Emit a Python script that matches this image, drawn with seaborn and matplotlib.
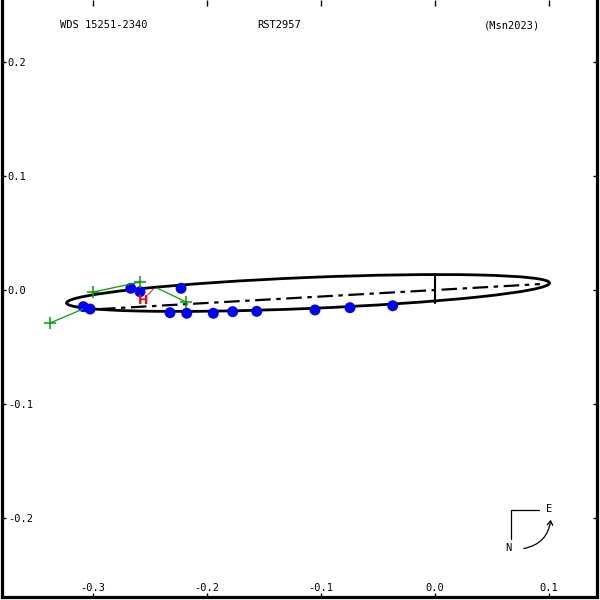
import matplotlib
matplotlib.use("Agg")
import matplotlib.pyplot as plt
import seaborn as sns
import pandas as pd
from matplotlib.patches import Ellipse, FancyArrowPatch

# observed positions (blue dots)
obs_x = [-0.3085, -0.3026, -0.2669, -0.2588, -0.2228, -0.2325, -0.2178,
         -0.1945, -0.1775, -0.1564, -0.1053, -0.0746, -0.0371]
obs_y = [-0.0146, -0.0167, 0.0015, -0.0015, 0.0015, -0.0199, -0.0204,
         -0.0204, -0.0190, -0.0187, -0.0175, -0.0155, -0.0138]

# micrometer measures (green +) and their residual segments
plus_x = [-0.3377, -0.3000, -0.2588, -0.2184]
plus_y = [-0.0289, -0.0018, 0.0070, -0.0105]
seg_x0 = [-0.3377, -0.3000, -0.2439]
seg_y0 = [-0.0289, -0.0018, 0.0018]
seg_x1 = [-0.3088, -0.2588, -0.2184]
seg_y1 = [-0.0167, 0.0070, -0.0105]

# Hipparcos measure
hip_x, hip_y = -0.2562, -0.0092
hip_line_x = [-0.2520, -0.2471]
hip_line_y = [-0.0044, 0.0009]

# orbit ellipse and line of nodes
orb_center = (-0.1114, -0.0026)
orb_width = 0.424
orb_height = 0.0272
orb_angle = 2.37
nodes_x = [-0.294, 0.092]
nodes_y = [-0.0167, 0.0052]
primary_y = [0.014, -0.0114]

xticks = [-0.3, -0.2, -0.1, 0.0, 0.1]
yticks = [-0.2, -0.1, 0.0, 0.1, 0.2]

sns.set_style("ticks")
plt.rcParams['font.family'] = ['DejaVu Sans Mono']
plt.rcParams['axes.unicode_minus'] = False
plt.rcParams['text.color'] = 'black'
plt.rcParams['xtick.color'] = 'black'
plt.rcParams['ytick.color'] = 'black'
plt.rcParams['xtick.labelcolor'] = 'black'
plt.rcParams['ytick.labelcolor'] = 'black'

fig = plt.figure(figsize=(6, 6), dpi=100)
ax = fig.add_axes([0.0025, 0.0042, 0.9933, 0.9958])

df = pd.DataFrame({'x': obs_x, 'y': obs_y})
sns.scatterplot(data=df, x='x', y='y', ax=ax, color='#0000ff', s=62,
                edgecolor='none', zorder=4)

ax.add_patch(Ellipse(orb_center, orb_width, orb_height, angle=orb_angle,
                     fill=False, edgecolor='black', lw=2, zorder=3))
ax.plot(nodes_x, nodes_y, color='black', lw=1.6,
        linestyle=(0, (7, 2.5, 2, 2.5)), zorder=3)
ax.plot([0, 0], primary_y, color='black', lw=1.5, zorder=3)

for x0, y0, x1, y1 in zip(seg_x0, seg_y0, seg_x1, seg_y1):
    ax.plot([x0, x1], [y0, y1], color='#00a000', lw=0.9, zorder=5)
ax.plot(plus_x, plus_y, linestyle='none', marker='+', color='#00a000',
        ms=8, mew=1.1, zorder=5)

ax.plot(hip_line_x, hip_line_y, color='red', lw=0.7, zorder=5)
ax.text(hip_x, hip_y, 'H', color='red', fontsize=9, fontweight='bold',
        family='DejaVu Sans', ha='center', va='center', zorder=6)

ax.set_xlim(-0.3803, 0.1425)
ax.set_ylim(-0.2697, 0.2544)
ax.set_aspect('equal', adjustable='box')
ax.set_xticks(xticks)
ax.set_yticks(yticks)
ax.set_xticklabels([f'{v:.1f}' for v in xticks])
ax.set_yticklabels([f'{v:.1f}' for v in yticks])
ax.set_xlabel('')
ax.set_ylabel('')

ax.tick_params(axis='both', direction='in', width=1, color='black',
               labelsize=7.5, labelcolor='black', top=True, right=True)
ax.tick_params(axis='x', length=3, pad=-10.5)
ax.tick_params(axis='y', length=3, pad=-4.5)
for lab in ax.get_yticklabels():
    lab.set_horizontalalignment('left')
for t in ax.xaxis.get_major_ticks():
    t.tick2line.set_markersize(4.5)

for side in ['left', 'right', 'bottom']:
    ax.spines[side].set_linewidth(2.3)
    ax.spines[side].set_color('black')
ax.spines['top'].set_visible(False)

# header
fig.text(60 / 600, 1 - 25 / 600, 'WDS 15251-2340', fontsize=7.5,
         ha='left', va='center')
fig.text(279 / 600, 1 - 25 / 600, 'RST2957', fontsize=7.5,
         ha='center', va='center')
fig.text(512 / 600, 1 - 25 / 600, '(Msn2023)', fontsize=7.5,
         ha='center', va='center')

# compass
def fp(px, py):
    return (px / 600, 1 - py / 600)

fig.lines.append(plt.Line2D(*zip(fp(539, 509.5), fp(511, 509.5), fp(511, 539)),
                            transform=fig.transFigure, color='black', lw=0.9))
fig.text(*fp(549, 509), 'E', fontsize=7.5, ha='center', va='center')
fig.text(*fp(508, 548), 'N', fontsize=7.5, ha='center', va='center')
fig.patches.append(FancyArrowPatch(fp(521, 549), fp(551, 517),
                                   connectionstyle='arc3,rad=0.4',
                                   arrowstyle='->,head_length=3,head_width=2',
                                   transform=fig.transFigure, color='black',
                                   lw=0.9))

fig.savefig('out.png', dpi=100)
